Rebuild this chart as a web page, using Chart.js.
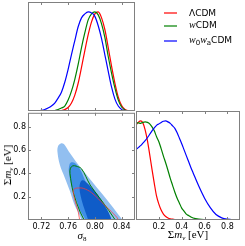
<!DOCTYPE html>
<html>
<head>
<meta charset="utf-8">
<script src="https://cdn.jsdelivr.net/npm/chart.js@4.4.0/dist/chart.umd.min.js"></script>
<style>
body { margin: 0; background: #fff; width: 245px; height: 246px; overflow: hidden; position: relative; }
canvas { position: absolute; }
.lab { position: absolute; font-family: 'Liberation Serif', serif; font-size: 11px; color: #000; white-space: nowrap; transform: translate(-50%, -50%); }
.lab sub, .leg sub { font-size: 7px; vertical-align: -2px; }
.leg { position: absolute; font-family: 'DejaVu Sans', sans-serif; font-size: 9px; line-height: 12px; white-space: nowrap; color: #000; }
.leg i { font-family: 'Liberation Serif', serif; font-size: 10px; }
.swatch { position: absolute; width: 13px; height: 2px; opacity: 0.6; }
</style>
</head>
<body>
<canvas id="c1" width="140" height="116" style="left:0;top:0"></canvas>
<canvas id="c2" width="140" height="140" style="left:0;top:106px"></canvas>
<canvas id="c3" width="115" height="140" style="left:130px;top:106px"></canvas>
<div class="lab" style="left:82px;top:236px"><i>σ</i><sub>8</sub></div>
<div class="lab" style="left:188px;top:235px">Σ<i>m</i><sub><i>ν</i></sub> [eV]</div>
<div class="lab" style="left:8px;top:165px;transform:translate(-50%,-50%) rotate(-90deg)">Σ<i>m</i><sub><i>ν</i></sub> [eV]</div>
<div id="legend"></div>
<script>
// models
const models = ['ΛCDM', 'wCDM', 'w₀wₐCDM'];
const legendLabels = ['ΛCDM', '<i>w</i>CDM', '<i>w</i><sub>0</sub><i>w</i><sub>a</sub>CDM'];
const modelColors = ['#ff0000', '#008000', '#0000ff'];

// axes
const sigma8Range = [0.70, 0.86];
const mnuRange = [0, 0.92];
const sigma8Ticks = [0.72, 0.76, 0.80, 0.84];
const sigma8TickLabels = ['0.72', '0.76', '0.80', '0.84'];
const mnuTicks = [0.2, 0.4, 0.6, 0.8];
const mnuTickLabels = ['0.2', '0.4', '0.6', '0.8'];

// 1D posterior of sigma8 (normalised to peak)
const sigma8Grid = [0.700, 0.705, 0.710, 0.715, 0.720, 0.725, 0.730, 0.735, 0.740, 0.745, 0.750,
  0.755, 0.760, 0.765, 0.770, 0.775, 0.780, 0.785, 0.790, 0.795, 0.800, 0.805, 0.810,
  0.815, 0.820, 0.825, 0.830, 0.835, 0.840, 0.845, 0.850, 0.855, 0.860];
const sigma8LCDM = [0, 0, 0, 0, 0, 0, 0, 0, 0, 0.002, 0.005,
  0.015, 0.035, 0.08, 0.16, 0.28, 0.44, 0.61, 0.77, 0.90, 0.98, 1.0, 0.94,
  0.82, 0.64, 0.45, 0.28, 0.14, 0.055, 0.015, 0.003, 0, 0];
const sigma8wCDM = [0, 0, 0, 0, 0, 0, 0.001, 0.002, 0.005, 0.015, 0.03,
  0.05, 0.11, 0.20, 0.32, 0.47, 0.64, 0.79, 0.92, 0.98, 1.0, 0.97, 0.88,
  0.74, 0.55, 0.38, 0.23, 0.11, 0.04, 0.01, 0.002, 0, 0];
const sigma8w0wa = [0, 0, 0.001, 0.003, 0.007, 0.015, 0.03, 0.05, 0.08, 0.13, 0.19,
  0.29, 0.42, 0.57, 0.71, 0.85, 0.94, 0.98, 1.0, 0.99, 0.955, 0.86, 0.73,
  0.565, 0.40, 0.24, 0.12, 0.05, 0.015, 0.004, 0.001, 0, 0];

// 1D posterior of sum m_nu
const mnuGrid = [0, 0.02, 0.04, 0.06, 0.08, 0.10, 0.12, 0.14, 0.16, 0.18, 0.20, 0.22, 0.24,
  0.26, 0.28, 0.30, 0.32, 0.34, 0.36, 0.38, 0.40, 0.42, 0.44, 0.46, 0.48, 0.50,
  0.55, 0.60, 0.65, 0.70, 0.75, 0.80, 0.85, 0.90];
const mnuLCDM = [0.96, 0.985, 1.0, 0.98, 0.91, 0.80, 0.66, 0.51, 0.37, 0.24, 0.16, 0.10, 0.06,
  0.035, 0.02, 0.012, 0.008, 0.005, 0.003, 0.002, 0.001, 0, 0, 0, 0, 0,
  0, 0, 0, 0, 0, 0, 0, 0];
const mnuwCDM = [0.98, 0.98, 0.975, 0.985, 0.99, 0.985, 0.97, 0.94, 0.90, 0.84, 0.79, 0.72, 0.645,
  0.575, 0.50, 0.42, 0.35, 0.28, 0.22, 0.17, 0.12, 0.09, 0.06, 0.045, 0.03, 0.02,
  0.008, 0.003, 0.001, 0, 0, 0, 0, 0];
const mnuw0wa = [0.71, 0.73, 0.75, 0.775, 0.80, 0.83, 0.865, 0.90, 0.93, 0.955, 0.97, 0.985, 0.997,
  1.0, 0.99, 0.975, 0.95, 0.925, 0.88, 0.825, 0.77, 0.71, 0.65, 0.59, 0.53, 0.475,
  0.34, 0.22, 0.125, 0.055, 0.022, 0.008, 0.002, 0];

// 2D contours [sigma8, sum m_nu]
const w0wa95 = [[0.781, -0.03], [0.778, 0.03], [0.769, 0.138], [0.7625, 0.25], [0.755, 0.363],
  [0.7475, 0.476], [0.744, 0.588], [0.745, 0.635], [0.749, 0.657], [0.754, 0.650],
  [0.761, 0.588], [0.775, 0.476], [0.791, 0.363], [0.807, 0.25], [0.823, 0.138],
  [0.838, 0.025], [0.845, -0.03]];
const w0wa68 = [[0.787, -0.03], [0.786, 0.0], [0.778, 0.082], [0.771, 0.194], [0.7645, 0.307],
  [0.761, 0.42], [0.762, 0.475], [0.765, 0.495], [0.770, 0.49], [0.7775, 0.44],
  [0.789, 0.30], [0.803, 0.194], [0.817, 0.082], [0.825, 0.0], [0.826, -0.03]];
const w0waCore = [[0.791, -0.03], [0.790, 0.0], [0.784, 0.10], [0.779, 0.20], [0.777, 0.28],
  [0.779, 0.33], [0.783, 0.34], [0.790, 0.31], [0.801, 0.24], [0.812, 0.15],
  [0.821, 0.06], [0.825, 0.0], [0.826, -0.03]];
const wCDM95 = [[0.785, -0.03], [0.784, 0.0], [0.778, 0.068], [0.7677, 0.236], [0.7628, 0.40],
  [0.7635, 0.445], [0.767, 0.465], [0.772, 0.462], [0.780, 0.44], [0.793, 0.30],
  [0.807, 0.19], [0.821, 0.08], [0.834, -0.03]];
const LCDM95 = [[0.778, -0.03], [0.7752, 0.068], [0.770, 0.17], [0.7677, 0.25], [0.770, 0.27],
  [0.776, 0.275], [0.7827, 0.272], [0.795, 0.235], [0.8151, 0.124], [0.8326, 0.025],
  [0.838, -0.03]];
const contourFills = ['#92bff0', '#3f8fe6', '#0f5cc8'];

Chart.defaults.font.family = 'DejaVu Sans';
Chart.defaults.font.size = 8;
Chart.defaults.color = '#000';

// matplotlib-like box with inward ticks
const framePlugin = {
  id: 'frame',
  afterDraw(chart, args, opts) {
    const { ctx, chartArea: a, scales } = chart;
    ctx.save();
    ctx.strokeStyle = '#808080';
    ctx.lineWidth = 1;
    ctx.beginPath();
    (opts.xTicks || []).forEach(v => {
      const p = Math.round(scales.x.getPixelForValue(v)) + 0.5;
      ctx.moveTo(p, a.top); ctx.lineTo(p, a.top + 3);
      ctx.moveTo(p, a.bottom); ctx.lineTo(p, a.bottom - 3);
    });
    (opts.yTicks || []).forEach(v => {
      const p = Math.round(scales.y.getPixelForValue(v)) + 0.5;
      ctx.moveTo(a.left, p); ctx.lineTo(a.left + 3, p);
      ctx.moveTo(a.right, p); ctx.lineTo(a.right - 3, p);
    });
    ctx.stroke();
    ctx.strokeRect(a.left + 0.5, a.top + 0.5, a.right - a.left - 1, a.bottom - a.top - 1);
    ctx.restore();
  }
};

// fill closed contour lines using the line element's own path
const contourFillPlugin = {
  id: 'contourFill',
  beforeDatasetDraw(chart, args) {
    const ds = chart.data.datasets[args.index];
    if (!ds.polyFill) return;
    const { ctx, chartArea: a } = chart;
    ctx.save();
    ctx.beginPath();
    ctx.rect(a.left, a.top, a.right - a.left, a.bottom - a.top);
    ctx.clip();
    ctx.beginPath();
    args.meta.dataset.path(ctx);
    ctx.closePath();
    ctx.fillStyle = ds.polyFill;
    ctx.fill();
    ctx.restore();
  }
};

function axis(range, ticks, labels, show, size, horizontal) {
  return {
    type: 'linear', min: range[0], max: range[1], display: show,
    afterBuildTicks: s => { s.ticks = ticks.map(v => ({ value: v })); },
    afterFit: s => { if (horizontal) s.height = size; else s.width = size; },
    grid: { display: false, drawTicks: false },
    border: { display: false },
    ticks: { padding: 2, autoSkip: false, maxRotation: 0, callback: (v, i) => labels[i] }
  };
}

function curve(xs, ys, color) {
  return {
    data: xs.map((x, i) => ({ x: x, y: ys[i] })),
    showLine: true, pointRadius: 0, borderColor: color, borderWidth: 1.2,
    fill: false, cubicInterpolationMode: 'monotone'
  };
}

function contour(pts, fillColor, lineColor) {
  return {
    data: pts.map(p => ({ x: p[0], y: p[1] })),
    showLine: true, pointRadius: 0, tension: 0.35, fill: false,
    borderColor: lineColor || 'rgba(0,0,0,0)', borderWidth: lineColor ? 1 : 0,
    polyFill: fillColor
  };
}

function panel(id, datasets, scales, padding, frame) {
  return new Chart(document.getElementById(id), {
    type: 'scatter',
    data: { datasets: datasets },
    options: {
      responsive: false, animation: false, events: [],
      layout: { padding: padding },
      scales: scales,
      plugins: { legend: { display: false }, tooltip: { enabled: false }, frame: frame }
    },
    plugins: [contourFillPlugin, framePlugin]
  });
}

// top-left: sigma8 1D
panel('c1', [
  curve(sigma8Grid, sigma8w0wa, modelColors[2]),
  curve(sigma8Grid, sigma8wCDM, modelColors[1]),
  curve(sigma8Grid, sigma8LCDM, modelColors[0])
], {
  x: { type: 'linear', min: sigma8Range[0], max: sigma8Range[1], display: false },
  y: { type: 'linear', min: 0, max: 1.1, display: false }
}, { left: 28, top: 2, right: 5, bottom: 5 }, { xTicks: sigma8Ticks });

// bottom-left: 2D contours (first dataset is drawn on top)
panel('c2', [
  contour(LCDM95, null, 'rgba(255,60,60,0.75)'),
  contour(wCDM95, null, modelColors[1]),
  contour(w0waCore, contourFills[2]),
  contour(w0wa68, contourFills[1]),
  contour(w0wa95, contourFills[0])
], {
  x: axis(sigma8Range, sigma8Ticks, sigma8TickLabels, true, 26, true),
  y: axis(mnuRange, mnuTicks, mnuTickLabels, true, 28, false)
}, { left: 0, top: 5, right: 5, bottom: 0 }, { xTicks: sigma8Ticks, yTicks: mnuTicks });

// bottom-right: sum m_nu 1D
panel('c3', [
  curve(mnuGrid, mnuw0wa, modelColors[2]),
  curve(mnuGrid, mnuwCDM, modelColors[1]),
  curve(mnuGrid, mnuLCDM, modelColors[0])
], {
  x: axis([0, 0.91], mnuTicks, mnuTickLabels, true, 26, true),
  y: { type: 'linear', min: 0, max: 1.1, display: false }
}, { left: 6, top: 5, right: 5, bottom: 0 }, { xTicks: mnuTicks });

// legend
const legendRowY = [13, 25.5, 40.5];
const leg = document.getElementById('legend');
models.forEach((m, i) => {
  const sw = document.createElement('div');
  sw.className = 'swatch';
  sw.style.left = '164px';
  sw.style.top = Math.round(legendRowY[i] - 1) + 'px';
  sw.style.background = modelColors[i];
  leg.appendChild(sw);
  const t = document.createElement('div');
  t.className = 'leg';
  t.style.left = '189px';
  t.style.top = (legendRowY[i] - 6.5) + 'px';
  t.innerHTML = legendLabels[i];
  leg.appendChild(t);
});
</script>
</body>
</html>
